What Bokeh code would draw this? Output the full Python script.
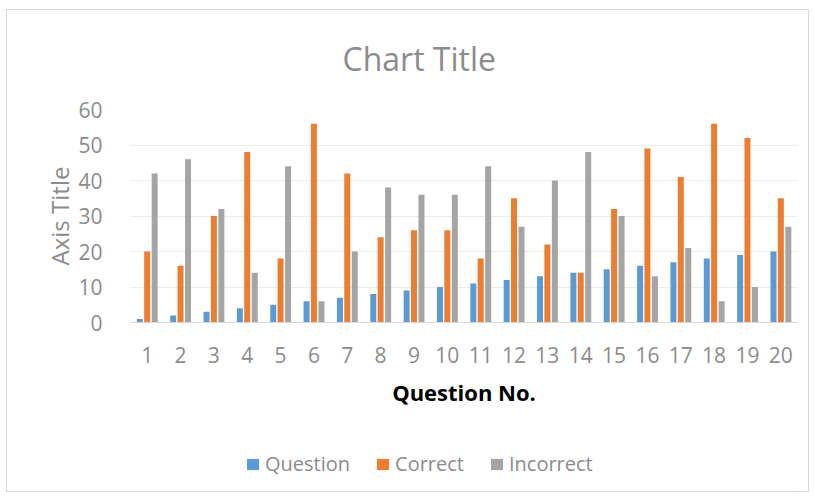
from bokeh.plotting import figure
from bokeh.layouts import column
from bokeh.models import ColumnDataSource, FactorRange, Range1d, Legend, LegendItem, Label
from bokeh.transform import dodge
from bokeh.embed import file_html
from bokeh.resources import INLINE

questions = [str(i) for i in range(1, 21)]
question_vals = [1, 2, 3, 4, 5, 6, 7, 8, 9, 10, 11, 12, 13, 14, 15, 16, 17, 18, 19, 20]
correct = [20, 16, 30, 48, 18, 56, 42, 24, 26, 26, 18, 35, 22, 14, 32, 49, 41, 56, 52, 35]
incorrect = [42, 46, 32, 14, 44, 6, 20, 38, 36, 36, 44, 27, 40, 48, 30, 13, 21, 6, 10, 27]
series_names = ["Question", "Correct", "Incorrect"]
series_colors = ["#5b9bd5", "#ed7d31", "#a5a5a5"]

src = ColumnDataSource(dict(q=questions, question=question_vals, correct=correct, incorrect=incorrect))

FONT = "Open Sans"
GRAY_TXT = "#8c8c8c"


def strip(height):
    f = figure(width=801, height=height, x_range=Range1d(0, 1), y_range=Range1d(0, height),
               output_backend="svg", toolbar_location=None,
               x_axis_location=None, y_axis_location=None,
               min_border_left=0, min_border_right=0, min_border_top=0, min_border_bottom=0)
    f.outline_line_color = None
    f.xgrid.grid_line_color = None
    f.ygrid.grid_line_color = None
    return f


# title strip
top = strip(70)
top.add_layout(Label(x=212, y=22, x_units="screen", y_units="screen", text="Chart Title",
                     text_font=FONT, text_font_size="32px", text_color=GRAY_TXT,
                     text_baseline="alphabetic", text_align="left"))

p = figure(x_range=FactorRange(*questions, range_padding=0), y_range=Range1d(0, 60),
           frame_width=667, frame_height=213, output_backend="svg", toolbar_location=None,
           min_border_left=123, min_border_right=11, min_border_top=29, min_border_bottom=120)

w = 0.18
p.vbar(x=dodge("q", -0.22, range=p.x_range), top="question", width=w, source=src,
       fill_color=series_colors[0], line_color=None)
p.vbar(x=dodge("q", 0.0, range=p.x_range), top="correct", width=w, source=src,
       fill_color=series_colors[1], line_color=None)
p.vbar(x=dodge("q", 0.225, range=p.x_range), top="incorrect", width=w, source=src,
       fill_color=series_colors[2], line_color=None)

p.outline_line_color = None
p.xgrid.grid_line_color = None
p.ygrid.grid_line_color = "#ececec"
p.ygrid.grid_line_width = 1

p.yaxis.ticker = [0, 10, 20, 30, 40, 50, 60]
p.yaxis.axis_line_color = None
p.yaxis.major_tick_line_color = None
p.yaxis.minor_tick_line_color = None
p.yaxis.major_label_text_font = FONT
p.yaxis.major_label_text_font_size = "21px"
p.yaxis.major_label_text_color = GRAY_TXT
p.yaxis.major_label_standoff = 22
p.yaxis.axis_label = "Axis Title"
p.yaxis.axis_label_text_font = FONT
p.yaxis.axis_label_text_font_size = "24px"
p.yaxis.axis_label_text_font_style = "normal"
p.yaxis.axis_label_text_color = GRAY_TXT
p.yaxis.axis_label_standoff = -1

p.xaxis.axis_line_color = "#d9d9d9"
p.xaxis.major_tick_line_color = None
p.xaxis.minor_tick_line_color = None
p.xaxis.major_label_text_font = FONT
p.xaxis.major_label_text_font_size = "21px"
p.xaxis.major_label_text_color = GRAY_TXT
p.xaxis.major_label_standoff = 18
p.xaxis.axis_label = "Question No."
p.xaxis.axis_label_text_font = FONT
p.xaxis.axis_label_text_font_size = "22px"
p.xaxis.axis_label_text_font_style = "bold"
p.xaxis.axis_label_text_color = "#000000"
p.xaxis.axis_label_standoff = 11

# legend strip below the chart (dummy renderers lie outside the visible range)
leg = strip(49)
items = []
for name, col in zip(series_names, series_colors):
    r = leg.vbar(x=[5], top=[1], width=0.1, fill_color=col, line_color=None)
    items.append(LegendItem(label=name, renderers=[r]))
legend = Legend(items=items, orientation="horizontal", location=(115, 14),
                label_text_font=FONT, label_text_font_size="20px", label_text_color=GRAY_TXT,
                glyph_width=15, glyph_height=14, spacing=25, label_standoff=5,
                border_line_color=None, background_fill_alpha=0, margin=0, padding=0)
leg.add_layout(legend)

layout = column(top, p, leg, spacing=0)
layout.styles = {"border": "1px solid #d9d9d9", "margin-left": "6px", "margin-top": "9px"}

open("out.html", "w").write(file_html(layout, INLINE))
